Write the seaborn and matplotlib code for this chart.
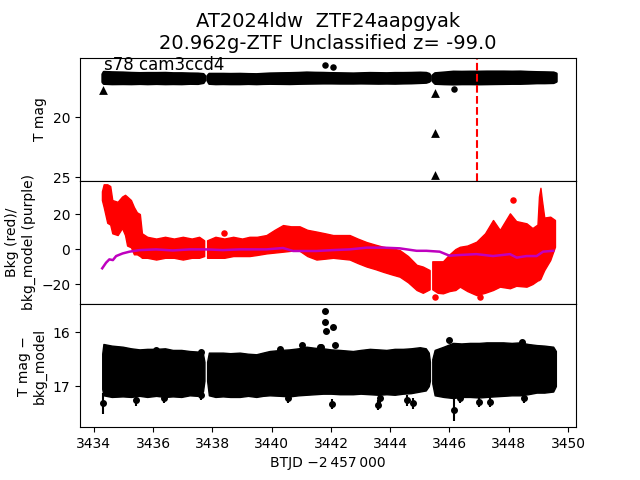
import numpy as np
import pandas as pd
import matplotlib
matplotlib.use('Agg')
import matplotlib.pyplot as plt
import seaborn as sns

# orbit gaps (BTJD) - data are split into 3 runs
orbit_gaps = [3437.77, 3445.38]

# T mag - bkg_model : visible envelope of the dense black band
band_t = [3434.28, 3434.32, 3434.6, 3434.97, 3435.25, 3435.54, 3435.8, 3436.10, 3436.4, 3436.66,
          3436.95, 3437.23, 3437.5, 3437.68, 3437.73,
          3437.82, 3437.88, 3438.1, 3438.35, 3438.6, 3438.92, 3439.2, 3439.48, 3439.7, 3439.93,
          3440.3, 3440.6, 3440.9, 3441.17, 3441.45, 3441.73, 3442.0, 3442.3, 3442.74, 3443.0,
          3443.31, 3443.6, 3443.87, 3444.15, 3444.43, 3444.7, 3445.0, 3445.2, 3445.30, 3445.34,
          3445.42, 3445.5, 3445.8, 3446.12, 3446.4, 3446.69, 3447.0, 3447.25, 3447.5, 3447.81,
          3448.1, 3448.38, 3448.65, 3448.94, 3449.2, 3449.5, 3449.59]
band_hi = [16.4, 16.22, 16.25, 16.27, 16.3, 16.32, 16.31, 16.31, 16.3, 16.33,
           16.33, 16.35, 16.36, 16.4, 16.55,
           16.55, 16.38, 16.38, 16.38, 16.39, 16.38, 16.4, 16.41, 16.38, 16.35,
           16.33, 16.32, 16.3, 16.27, 16.29, 16.3, 16.32, 16.33, 16.35, 16.33,
           16.31, 16.32, 16.33, 16.31, 16.31, 16.3, 16.28, 16.3, 16.38, 16.55,
           16.5, 16.33, 16.27, 16.2, 16.21, 16.2, 16.2, 16.19, 16.19, 16.19,
           16.2, 16.19, 16.22, 16.24, 16.25, 16.27, 16.35]
band_lo = [17.05, 17.17, 17.2, 17.19, 17.2, 17.18, 17.2, 17.18, 17.2, 17.19,
           17.2, 17.17, 17.18, 17.1, 16.9,
           16.9, 17.17, 17.2, 17.19, 17.2, 17.2, 17.18, 17.2, 17.18, 17.17,
           17.18, 17.19, 17.17, 17.16, 17.15, 17.14, 17.14, 17.15, 17.15, 17.14,
           17.15, 17.16, 17.15, 17.16, 17.14, 17.13, 17.1, 17.08, 17.0, 16.9,
           16.95, 17.17, 17.2, 17.22, 17.2, 17.2, 17.21, 17.2, 17.19, 17.18,
           17.17, 17.17, 17.15, 17.12, 17.12, 17.1, 17.0]

# faint points sticking out below the band (with error bars)
faint_t = [3434.30, 3435.43, 3436.35, 3437.62, 3440.55, 3441.68, 3442.03, 3443.59, 3443.65,
           3444.58, 3444.77, 3446.16, 3446.35, 3447.0, 3447.36, 3448.51]
faint_mag = [17.32, 17.26, 17.22, 17.17, 17.22, 17.07, 17.33, 17.35, 17.22,
             17.26, 17.32, 17.44, 17.22, 17.29, 17.29, 17.22]
faint_err = [0.2, 0.1, 0.1, 0.08, 0.1, 0.1, 0.1, 0.1, 0.1,
             0.1, 0.1, 0.2, 0.1, 0.1, 0.1, 0.1]
# bright points above the band
bright_t = [3441.81, 3441.79, 3441.83, 3442.07, 3442.12, 3441.65, 3440.27, 3436.10, 3437.62,
            3441.01, 3441.62, 3445.99, 3448.45]
bright_mag = [15.61, 15.81, 15.98, 15.91, 16.24, 16.27, 16.31, 16.33, 16.36,
              16.24, 16.27, 16.15, 16.18]

# top panel: T mag outliers and upper limits
top_t = [3441.79, 3442.06, 3446.15]
top_mag = [15.67, 15.83, 17.67]
lim_t = [3434.29, 3445.51, 3445.51, 3445.51]
lim_mag = [17.75, 18.03, 21.36, 24.83]
t_event = 3446.92

# background (red) envelope
bkg_t = [3434.27, 3434.33, 3434.45, 3434.55, 3434.62, 3434.80, 3434.95, 3435.05, 3435.12, 3435.25,
         3435.35, 3435.45, 3435.55, 3435.62, 3435.8, 3436.1, 3436.4, 3436.7, 3437.0, 3437.3,
         3437.55, 3437.72,
         3437.82, 3438.1, 3438.4, 3438.7, 3439.0, 3439.25, 3439.5, 3439.82, 3440.1, 3440.38,
         3440.65, 3440.94, 3441.2, 3441.51, 3441.8, 3442.07, 3442.35, 3442.63, 3442.9, 3443.2,
         3443.5, 3443.76, 3444.05, 3444.32, 3444.6, 3444.89, 3445.1, 3445.33,
         3445.42, 3445.6, 3445.78, 3446.0, 3446.2, 3446.35, 3446.6, 3446.91, 3447.2, 3447.47,
         3447.7, 3448.04, 3448.25, 3448.6, 3448.8, 3448.97, 3449.02, 3449.07, 3449.12, 3449.2,
         3449.4, 3449.56]
bkg_hi = [33, 37, 37, 36, 28, 27, 30, 31, 30, 28,
          24, 21, 20, 9, 7, 6, 7, 6, 7, 6,
          7, 5,
          5, 7, 6, 7, 6, 7, 7, 8, 11, 13.7,
          13, 13, 11, 10, 9, 8, 8, 8, 6, 4,
          2.5, 1.3, 0.5, -0.6, -4, -9, -10, -12,
          -7, -7, -7, -3, 0, 1.3, 2, 4.2, 9, 16.6,
          10.9, 20.4, 16, 14.7, 12, 14, 30, 35, 28, 18,
          18.5, 16.6]
bkg_lo = [28, 24, 15, 14, 9, 8, 12, 8, 2, 1,
          -3, -3, -4, -5, -5, -6, -5, -5, -6, -5,
          -5, -4,
          -5, -5, -5, -4, -4, -4, -3.4, -2.5, -2, -1.5,
          -1, -1, -4, -6, -5.5, -5, -5.5, -6, -8, -10,
          -11.5, -13, -14.5, -15.8, -19, -23.4, -25, -23,
          -23, -25, -25.3, -24, -23.4, -21.5, -24, -26.3, -25, -23.4,
          -21.5, -22.4, -21, -21.5, -20, -18, -17.7, -17, -15, -12,
          -6.3, 1.3]
bkg_out_t = [3438.39, 3448.15, 3445.5, 3447.02]
bkg_out = [9.0, 28.0, -27.2, -27.2]

# background model (purple)
model_t = [3434.28, 3434.41, 3434.52, 3434.64, 3434.75, 3434.97, 3435.2, 3435.54, 3436.1, 3436.66,
           3437.23, 3437.79, 3438.35, 3438.92, 3439.48, 3439.82, 3440.38, 3440.72, 3441.51, 3442.07,
           3442.63, 3443.2, 3443.76, 3444.32, 3444.89, 3445.22, 3445.67, 3446.0, 3446.35, 3446.91,
           3447.47, 3448.04, 3448.27, 3448.6, 3448.94, 3449.16, 3449.5]
model_val = [-11, -7.8, -5.9, -6.3, -4, -2.5, -1.5, -0.6, -0.2, -0.8,
             -0.2, -0.2, -0.6, -0.2, -0.2, -0.2, 0.6, -1.1, -1.1, -0.6,
             -0.2, 0.8, 0.8, 0.4, -1, -1, -1.5, -3.8, -3.4, -2.9,
             -4, -2.9, -4.9, -4, -4, -1.5, -1]


def draw_band(ax, t, lo, hi, color, lw):
    df = pd.DataFrame({'t': t, 'lo': lo, 'hi': hi})
    df['seg'] = np.digitize(df['t'], orbit_gaps)
    for _, g in df.groupby('seg'):
        ax.fill_between(g['t'], g['lo'], g['hi'], facecolor=color, edgecolor=color, lw=lw)


fig, axes = plt.subplots(3, 1, sharex=True, figsize=(6.4, 4.8), dpi=100)
plt.subplots_adjust(hspace=0)
ax1, ax2, ax3 = axes

# top: T mag
draw_band(ax1, band_t, band_lo, band_hi, 'k', 2)
sns.scatterplot(x=top_t, y=top_mag, color='k', s=22, linewidth=0, ax=ax1)
sns.scatterplot(x=lim_t, y=lim_mag, color='k', marker='^', s=40, linewidth=0, ax=ax1)
ax1.axvline(t_event, color='r', ls='--', lw=1.5)
ax1.text(3434.35, 16.1, 's78 cam3ccd4', fontsize=12)
ax1.set_ylim(25.3, 15.05)
ax1.set_yticks([20, 25])
ax1.set_ylabel('T mag')
ax1.set_title('AT2024ldw  ZTF24aapgyak\n20.962g-ZTF Unclassified z= -99.0', fontsize=14)

# middle: background
draw_band(ax2, bkg_t, bkg_lo, bkg_hi, 'r', 1)
sns.scatterplot(x=bkg_out_t, y=bkg_out, color='r', s=22, linewidth=0, ax=ax2)
sns.lineplot(x=model_t, y=model_val, color='m', lw=1.8, ax=ax2)
ax2.set_ylim(-31.4, 39)
ax2.set_yticks([-20, 0, 20])
ax2.set_ylabel('Bkg (red)/\nbkg_model (purple)')

# bottom: T mag - bkg_model
draw_band(ax3, band_t, band_lo, band_hi, 'k', 1)
ax3.errorbar(faint_t, faint_mag, yerr=faint_err, fmt='o', color='k', ms=4, elinewidth=1.5)
ax3.errorbar(bright_t, bright_mag, yerr=0.03, fmt='o', color='k', ms=4, elinewidth=1.5)
ax3.set_ylim(17.76, 15.48)
ax3.set_yticks([16, 17])
ax3.set_ylabel('T mag \u2212\nbkg_model')

ax3.set_xlim(3433.53, 3450.27)
ax3.set_xticks(np.arange(3434, 3451, 2))
ax3.ticklabel_format(axis='x', useOffset=False)
ax3.set_xlabel('BTJD \u22122\u2009457\u2009000')

plt.savefig('out.png', dpi=100)
